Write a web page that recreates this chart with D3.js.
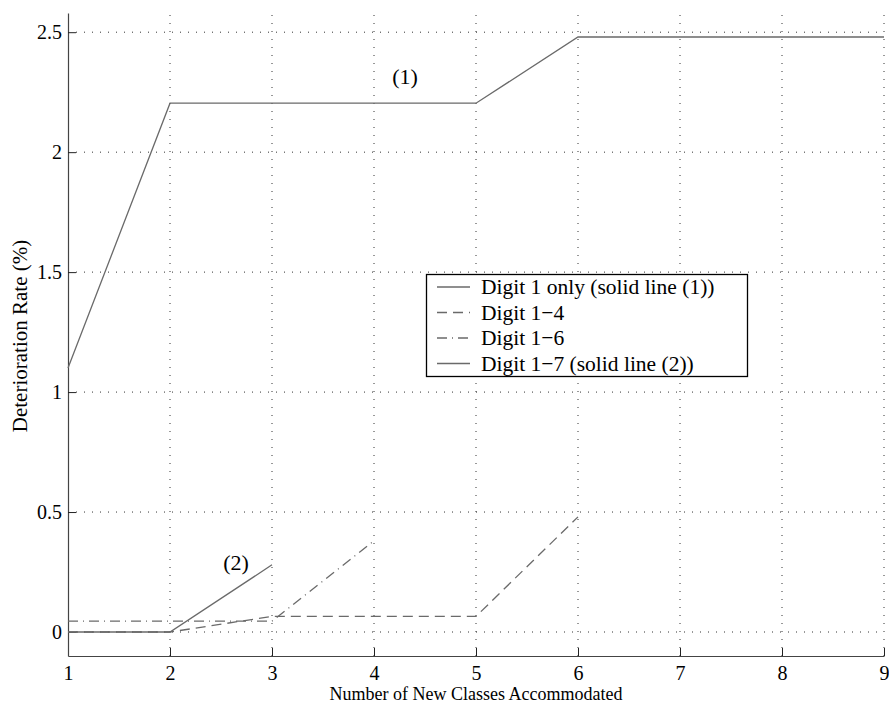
<!DOCTYPE html>
<html><head><meta charset="utf-8">
<script src="https://cdn.jsdelivr.net/npm/d3@7"></script>
<style>body{margin:0;background:#fff}svg{display:block}</style>
</head><body><svg id="c" width="889" height="707"></svg>
<script>
const xTicks = [1,2,3,4,5,6,7,8,9];
const yTicks = [0,0.5,1,1.5,2,2.5];
const yTickLabels = ["0","0.5","1","1.5","2","2.5"];
const digit1X = [1,2,3,4,5,6,7,8,9];
const digit1Y = [1.10,2.204,2.204,2.204,2.204,2.48,2.48,2.48,2.48];
const digit14X = [1,2,3,4,5,6];
const digit14Y = [0,0,0.065,0.065,0.065,0.48];
const digit16X = [1,2,3,4];
const digit16Y = [0.045,0.045,0.045,0.38];
const digit17X = [1,2,3];
const digit17Y = [0,0,0.28];
const legendLabels = ["Digit 1 only (solid line (1))","Digit 1\u22124","Digit 1\u22126","Digit 1\u22127 (solid line (2))"];
const xTitle = "Number of New Classes Accommodated";
const yTitle = "Deterioration Rate (%)";

const FONT = "'Liberation Serif', Tinos, 'Times New Roman', Times, 'DejaVu Serif', serif";
const svg = d3.select("#c");
const x = d3.scaleLinear().domain([1,9]).range([68,884]);
const y = d3.scaleLinear().domain([-0.1,2.58]).range([656,13]);

// grid
const g = svg.append("g");
g.selectAll(".gx").data(xTicks.slice(1)).enter().append("line")
 .attr("x1",d=>x(d)).attr("x2",d=>x(d)).attr("y1",y(-0.1)).attr("y2",y(2.58))
 .attr("stroke","#333").attr("stroke-width",1).attr("stroke-dasharray","1,7");
g.selectAll(".gy").data(yTicks).enter().append("line")
 .attr("x1",x(1)).attr("x2",x(9)).attr("y1",d=>y(d)).attr("y2",d=>y(d))
 .attr("stroke","#333").attr("stroke-width",1).attr("stroke-dasharray","1,7");

// axes
const xa = svg.append("g").attr("transform",`translate(0,${y(-0.1)})`)
 .call(d3.axisBottom(x).tickValues(xTicks).tickFormat(d3.format("d")).tickSizeInner(-8).tickSizeOuter(0).tickPadding(10));
const ya = svg.append("g").attr("transform",`translate(${x(1)},0)`)
 .call(d3.axisLeft(y).tickValues(yTicks).tickFormat((d,i)=>yTickLabels[i]).tickSizeInner(-8).tickSizeOuter(0).tickPadding(6));
[xa,ya].forEach(a=>{
  a.attr("font-family",FONT).attr("font-size",20);
  a.select(".domain").attr("stroke","#444").attr("stroke-width",1.2);
  a.selectAll(".tick line").attr("stroke","#222");
  a.selectAll("text").attr("fill","#000");
});

// series
const line = d3.line().x(d=>x(d[0])).y(d=>y(d[1]));
const series = [
 {xs:digit1X, ys:digit1Y, dash:null},
 {xs:digit14X, ys:digit14Y, dash:"10,6"},
 {xs:digit16X, ys:digit16Y, dash:"10,5,1,5"},
 {xs:digit17X, ys:digit17Y, dash:null}
];
series.forEach(s=>{
  svg.append("path").datum(s.xs.map((v,i)=>[v,s.ys[i]]))
   .attr("d",line).attr("fill","none").attr("stroke","#6a6a6a").attr("stroke-width",1.3)
   .attr("stroke-dasharray",s.dash);
});

const txt = (sel)=>sel.attr("font-family",FONT).attr("fill","#000");
// annotations
txt(svg.append("text")).attr("x",405).attr("y",84).attr("text-anchor","middle").attr("font-size",22).text("(1)");
txt(svg.append("text")).attr("x",236).attr("y",570).attr("text-anchor","middle").attr("font-size",22).text("(2)");

// legend
const lg = svg.append("g");
lg.append("rect").attr("x",426.5).attr("y",274.5).attr("width",321).attr("height",102)
 .attr("fill","#fff").attr("stroke","#000").attr("stroke-width",1.3);
legendLabels.forEach((t,i)=>{
  const cy = 287 + i*25.5;
  lg.append("line").attr("x1",437).attr("x2",470).attr("y1",cy).attr("y2",cy)
   .attr("stroke","#6a6a6a").attr("stroke-width",1.3).attr("stroke-dasharray",series[i].dash);
  txt(lg.append("text")).attr("x",481).attr("y",cy+7).attr("font-size",21.5).text(t);
});

// titles
txt(svg.append("text")).attr("x",476).attr("y",700).attr("text-anchor","middle").attr("font-size",18).text(xTitle);
txt(svg.append("text")).attr("transform","translate(27,336) rotate(-90)").attr("text-anchor","middle").attr("font-size",21).text(yTitle);
</script></body></html>
